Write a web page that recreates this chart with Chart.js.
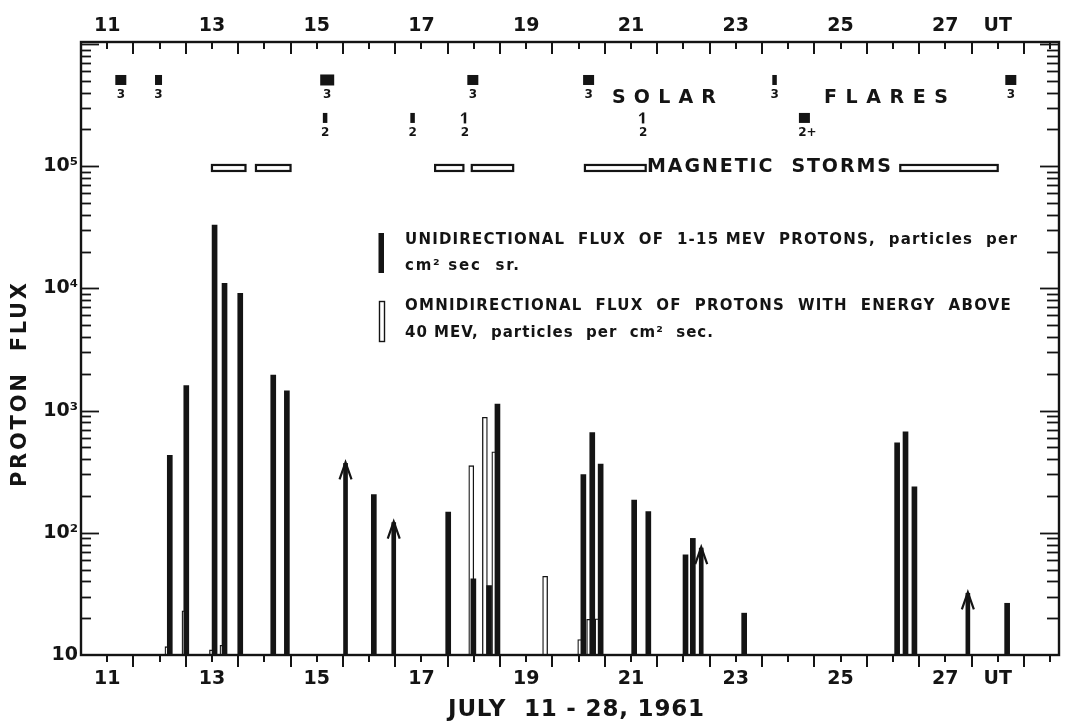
<!DOCTYPE html>
<html><head><meta charset="utf-8">
<script src="https://cdn.jsdelivr.net/npm/chart.js@4.4.1/dist/chart.umd.min.js"></script>
<style>html,body{margin:0;padding:0;background:#fff;overflow:hidden}#wrap{width:1069px;height:724px}</style>
</head><body><div id="wrap"><canvas id="c" width="1069" height="724"></canvas></div>
<script>
// ---------- data ----------
const xLabelDays = [11, 13, 15, 17, 19, 21, 23, 25, 27, 28];
const xLabelText = ['11', '13', '15', '17', '19', '21', '23', '25', '27', 'UT'];
const yTickValues = [10, 100, 1000, 10000, 100000];
const yTickText = ['10', '10²', '10³', '10⁴', '10⁵'];

// unidirectional flux of 1-15 MeV protons (filled bars)
const uniDays = [12.195, 12.51, 13.05, 13.24, 13.54, 14.17, 14.43, 16.09, 17.51, 17.99, 18.29, 18.45, 20.09, 20.26, 20.42, 21.06, 21.33, 22.04, 22.18, 23.16, 26.08, 26.24, 26.41, 28.18];
const uniFlux = [430, 1600, 33000, 11000, 9100, 1950, 1450, 205, 148, 42, 37, 1130, 300, 660, 365, 185, 149, 66, 90, 22, 545, 670, 238, 26.5];
// lower limits (arrows)
const arrowDays = [15.55, 16.47, 22.34, 27.43];
const arrowFlux = [370, 121, 75, 32];
// omnidirectional flux of protons above 40 MeV (open bars)
const omniDays = [12.15, 12.475, 13.0, 13.2, 17.95, 18.21, 18.39, 19.36, 20.03, 20.20, 20.36];
const omniFlux = [11.7, 23, 11, 12, 354, 880, 460, 44, 13.4, 19.6, 19.8];

// solar flares
const flareDays = [11.26, 11.98, 15.20, 15.16, 16.83, 17.83, 17.98, 20.19, 21.23, 23.74, 24.31, 28.25];
const flareClass = ['3', '3', '3', '2', '2', '2', '3', '3', '2', '3', '2+', '3'];
const flareShape = ['square', 'rect', 'big', 'bar', 'bar', 'line', 'square', 'square', 'line', 'bar', 'square', 'square'];
const flareRow = [1, 1, 1, 2, 2, 2, 1, 1, 2, 1, 2, 1];

// magnetic storms
const stormStart = [13.00, 13.84, 17.26, 17.96, 20.12, 26.14];
const stormEnd = [13.64, 14.50, 17.80, 18.75, 21.28, 28.00];

// ---------- drawing ----------
const FONT = "'DejaVu Sans', 'Liberation Sans', sans-serif";
const INK = '#141414';
const ROW_VALUE = {1: 5.07e5, 2: 2.48e5};
const STORM_VALUE = 9.66e4;

function fitText(ctx, text, x, y, w, font, align) {
  ctx.font = font;
  ctx.letterSpacing = '0px';
  const w0 = ctx.measureText(text).width;
  const n = Array.from(text).length;
  let ls = (w - w0) / Math.max(1, n - 1);
  ls = Math.max(-1, Math.min(ls, 24));
  ctx.letterSpacing = ls.toFixed(2) + 'px';
  ctx.textAlign = 'left';
  ctx.textBaseline = 'middle';
  const x0 = align === 'center' ? x - w / 2 : x;
  ctx.fillText(text, x0, y);
  ctx.letterSpacing = '0px';
}

function seg(ctx, x1, y1, x2, y2) {
  ctx.beginPath(); ctx.moveTo(x1, y1); ctx.lineTo(x2, y2); ctx.stroke();
}

const framePlugin = {
  id: 'frame',
  afterDraw(chart) {
    const {ctx, chartArea: a} = chart;
    const x = chart.scales.x, y = chart.scales.y;
    ctx.save();
    ctx.strokeStyle = INK; ctx.fillStyle = INK;

    // frame
    ctx.lineWidth = 2.4;
    ctx.strokeRect(a.left, a.top, a.right - a.left, a.bottom - a.top);

    // x ticks (bottom outside, top inside)
    ctx.lineWidth = 2;
    for (let d = 11; d <= x.max + 1e-6; d += 0.5) {
      const px = Math.round(x.getPixelForValue(d));
      const len = Number.isInteger(d) ? 7 : 12;
      seg(ctx, px, a.bottom, px, a.bottom + len);
      seg(ctx, px, a.top, px, a.top + len);
    }
    // y ticks (inside on both sides)
    ctx.lineWidth = 1.8;
    for (let k = 1; k <= 6; k++) {
      for (let m = 1; m <= 9; m++) {
        const v = m * Math.pow(10, k);
        if (v <= y.min * 1.0001 || v >= y.max) continue;
        const py = Math.round(y.getPixelForValue(v)) + 0.5;
        const major = m === 1;
        seg(ctx, a.left, py, a.left + (major ? 18 : 10), py);
        seg(ctx, a.right, py, a.right - (major ? 19 : 12), py);
      }
    }

    // arrow heads on lower-limit bars
    ctx.lineWidth = 2.2;
    chart.getDatasetMeta(2).data.forEach(el => {
      ctx.beginPath();
      ctx.moveTo(el.x - 6, el.y + 16);
      ctx.lineTo(el.x, el.y - 1);
      ctx.lineTo(el.x + 6, el.y + 16);
      ctx.stroke();
    });

    // magnetic storms
    ctx.lineWidth = 2.2;
    stormStart.forEach((s, i) => {
      const x1 = x.getPixelForValue(s), x2 = x.getPixelForValue(stormEnd[i]);
      const yc = y.getPixelForValue(STORM_VALUE);
      ctx.fillStyle = '#fff';
      ctx.fillRect(x1, yc - 3, x2 - x1, 6);
      ctx.strokeRect(x1, yc - 3, x2 - x1, 6);
    });
    ctx.fillStyle = INK;

    // solar flares
    const sizes = {big: [14, 11], square: [11, 10], rect: [7, 10], bar: [4.5, 10], line: [2.5, 11]};
    flareDays.forEach((d, i) => {
      const px = x.getPixelForValue(d);
      const py = y.getPixelForValue(ROW_VALUE[flareRow[i]]);
      const [w, h] = sizes[flareShape[i]];
      ctx.fillRect(px - w / 2, py - h / 2, w, h);
      if (flareShape[i] === 'line') {
        ctx.lineWidth = 1.5;
        seg(ctx, px - w / 2, py - h / 2 + 1, px - w / 2 - 2.5, py - h / 2 + 3.5);
      }
      ctx.font = 'bold 12px ' + FONT;
      ctx.textAlign = 'center'; ctx.textBaseline = 'middle';
      ctx.fillText(flareClass[i], px + (flareClass[i] === '2+' ? 3 : 0), py + 15);
    });

    // annotations
    fitText(ctx, 'SOLAR', 612, 98, 104, 'bold 19px ' + FONT);
    fitText(ctx, 'FLARES', 824, 98, 124, 'bold 19px ' + FONT);
    fitText(ctx, 'MAGNETIC  STORMS', 647, 167, 244, 'bold 19px ' + FONT);

    // legend
    ctx.fillRect(378.5, 233, 5.5, 40);
    ctx.lineWidth = 1.4;
    ctx.strokeRect(379.5, 301.5, 5, 40);
    fitText(ctx, 'UNIDIRECTIONAL  FLUX  OF  1-15 MEV  PROTONS,  particles  per', 405, 240, 612, 'bold 15px ' + FONT);
    fitText(ctx, 'cm² sec  sr.', 405, 266, 114, 'bold 15px ' + FONT);
    fitText(ctx, 'OMNIDIRECTIONAL  FLUX  OF  PROTONS  WITH  ENERGY  ABOVE', 405, 306, 606, 'bold 15px ' + FONT);
    fitText(ctx, '40 MEV,  particles  per  cm²  sec.', 405, 333, 308, 'bold 15px ' + FONT);

    // axis titles
    fitText(ctx, 'JULY  11 - 28, 1961', 576, 710, 256, 'bold 23px ' + FONT, 'center');
    ctx.save();
    ctx.translate(21, 385);
    ctx.rotate(-Math.PI / 2);
    fitText(ctx, 'PROTON  FLUX', 0, 0, 204, 'bold 21px ' + FONT, 'center');
    ctx.restore();

    ctx.restore();
  }
};

const xTickOpts = (pad) => ({
  autoSkip: false, maxRotation: 0, minRotation: 0, padding: pad,
  color: INK, font: {family: FONT, size: 19, weight: 'bold'},
  callback: (v, i) => xLabelText[i]
});

new Chart(document.getElementById('c'), {
  type: 'bar',
  data: {
    datasets: [
      {label: 'omni', data: omniDays.map((d, i) => ({x: d, y: omniFlux[i]})),
       backgroundColor: '#fff', borderColor: INK, borderWidth: 1.3, barThickness: 5, order: 3, base: 10},
      {label: 'uni', data: uniDays.map((d, i) => ({x: d, y: uniFlux[i]})),
       backgroundColor: INK, borderWidth: 0, barThickness: 5, order: 1, base: 10},
      {label: 'uniArrow', data: arrowDays.map((d, i) => ({x: d, y: arrowFlux[i]})),
       backgroundColor: INK, borderWidth: 0, barThickness: 4, order: 2, base: 10}
    ]
  },
  options: {
    responsive: false, animation: false,
    layout: {padding: {left: 0, right: 10, top: 0, bottom: 0}},
    datasets: {bar: {grouped: false}},
    plugins: {legend: {display: false}, tooltip: {enabled: false}},
    scales: {
      x: {
        type: 'linear', position: 'bottom', min: 10.5, max: 29.17, offset: false,
        grid: {display: false, drawTicks: false}, border: {display: false},
        afterBuildTicks: s => { s.ticks = xLabelDays.map(v => ({value: v})); },
        ticks: xTickOpts(13),
        afterFit: s => { s.height = 69; }
      },
      x2: {
        type: 'linear', axis: 'x', position: 'top', min: 10.5, max: 29.17, offset: false,
        grid: {display: false, drawTicks: false}, border: {display: false},
        afterBuildTicks: s => { s.ticks = xLabelDays.map(v => ({value: v})); },
        ticks: xTickOpts(5),
        afterFit: s => { s.height = 42; }
      },
      y: {
        type: 'logarithmic', position: 'left', min: 10, max: 1.037e6,
        grid: {display: false, drawTicks: false}, border: {display: false},
        afterBuildTicks: s => { s.ticks = yTickValues.map(v => ({value: v, major: true})); },
        ticks: {autoSkip: false, padding: 3, color: INK, font: {family: FONT, size: 19, weight: 'bold'},
                callback: (v, i) => yTickText[i]},
        afterFit: s => { s.width = 81; }
      }
    }
  },
  plugins: [framePlugin]
});
</script></body></html>
